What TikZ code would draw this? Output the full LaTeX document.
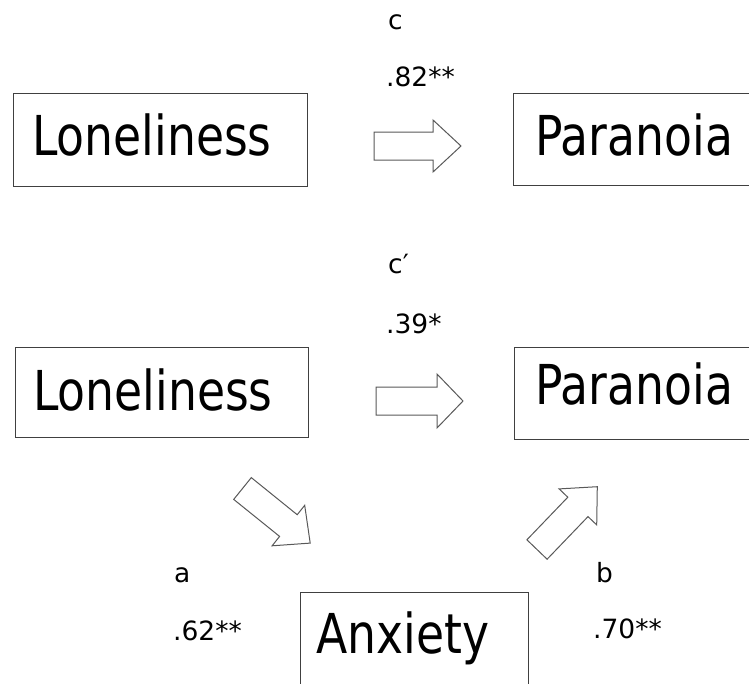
\documentclass[tikz,border=0pt]{standalone}
\usepackage{fontspec}
\setmainfont{DejaVu Sans}
\newfontfamily\boxfont[FakeStretch=0.83]{DejaVu Sans}
\begin{document}
\begin{tikzpicture}[x=1pt,y=-1pt,
  varbox/.style={draw=black!75,line width=1pt,inner sep=0pt,outer sep=0pt,anchor=north west},
  vartext/.style={font=\boxfont\fontsize{55}{60}\selectfont,inner sep=0pt,anchor=base west},
  coef/.style={font=\fontsize{26.5}{30}\selectfont,inner sep=0pt,anchor=base west},
  arrowline/.style={draw=black!65,line width=1pt,fill=white,line join=miter}
]
\useasboundingbox (0,0) rectangle (749,683);

% total effect
\node[varbox,minimum width=294,minimum height=93] (lon1) at (13,93) {};
\node[varbox,minimum width=260,minimum height=92] (par1) at (513,93) {};
\node[vartext] (lon1t) at (32,155) {Loneliness};
\node[vartext] (par1t) at (535,155) {Paranoia};
\path[arrowline] (374,132) -- (433,132) -- (433,120) -- (461,146)
  -- (433,172) -- (433,160) -- (374,160) -- cycle;
\node[coef] (lc) at (388,29) {c};
\node[coef] (vc) at (386,86) {.82**};

% mediated model
\node[varbox,minimum width=293,minimum height=90] (lon2) at (15,347) {};
\node[varbox,minimum width=260,minimum height=92] (par2) at (514,347) {};
\node[varbox,minimum width=228,minimum height=120] (anx) at (300,592) {};
\node[vartext] (lon2t) at (33,410) {Loneliness};
\node[vartext] (par2t) at (535,404) {Paranoia};
\node[vartext] (anxt) at (316,653) {Anxiety};
% direct path c'
\path[arrowline] (376,387) -- (437,387) -- (437,374) -- (463,401)
  -- (437,428) -- (437,415) -- (376,415) -- cycle;
% path a
\path[arrowline] (251.3,477.6) -- (297.2,514.7) -- (304.7,505.3) -- (310.2,543.1)
  -- (272.1,545.8) -- (279.6,536.4) -- (233.7,499.4) -- cycle;
% path b
\path[arrowline] (526.9,539.8) -- (567.8,497.2) -- (559.1,488.9) -- (597.3,486.7)
  -- (596.7,524.9) -- (588.0,516.6) -- (547.1,559.2) -- cycle;
\node[coef] (lcp) at (388,273) {c′};
\node[coef] (vcp) at (386,333) {.39*};
\node[coef] (la) at (174,582) {a};
\node[coef] (va) at (173,640) {.62**};
\node[coef] (lb) at (596,582) {b};
\node[coef] (vb) at (593,638) {.70**};
\end{tikzpicture}
\end{document}
